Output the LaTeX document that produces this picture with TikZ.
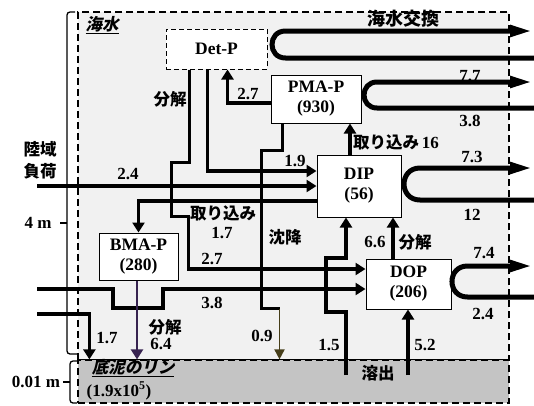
\documentclass[tikz,border=0pt]{standalone}
\usepackage{fontspec}
\setmainfont{Liberation Serif}
\newfontfamily\cjk{Noto Sans CJK JP}
\newfontfamily\cjkit[FakeSlant=0.22]{Noto Sans CJK JP}
\usetikzlibrary{arrows.meta,calc}
\definecolor{seafill}{RGB}{241,241,241}
\definecolor{sedfill}{RGB}{196,196,196}
\definecolor{olive0}{RGB}{70,62,25}
\definecolor{purp0}{RGB}{55,35,80}
\begin{document}
\begin{tikzpicture}[x=1pt,y=-1pt,
  num/.style={font=\fontsize{17}{20}\selectfont\bfseries, inner sep=0pt},
  jl/.style={font=\cjk\bfseries\fontsize{16.5}{20}\selectfont, inner sep=0pt},
  jit/.style={font=\cjkit\bfseries\fontsize{16.5}{20}\selectfont, inner sep=0pt},
  box/.style={draw, fill=white, line width=1pt, align=center, inner sep=0pt, font=\fontsize{17.5}{20}\selectfont\bfseries},
  conn/.style={line width=3.5pt, -{Triangle[length=10pt,width=12pt]}},
  wire/.style={line width=3.5pt},
  xloop/.style={line width=5pt, -{Triangle[length=22pt,width=11pt]}},
  zone/.style={draw, line width=1.2pt, dash pattern=on 7pt off 4pt, inner sep=0pt},
  brk/.style={line width=1.3pt, rounded corners=3pt}
]
\useasboundingbox (0,0) rectangle (534,405);
% zones
\node[zone, fill=seafill, minimum width=431pt, minimum height=348pt] (sea) at (293.5,186) {};
\node[zone, fill=sedfill, minimum width=431pt, minimum height=43pt] (sed) at (293.5,381.5) {};
% brackets
\draw[brk] (75,12) -- (67,12) -- (67,354) -- (77,354);
\draw[line width=1.3pt] (60,223) -- (67,223);
\draw[brk] (77,361) -- (70,361) -- (70,403) -- (77,403);
\draw[line width=1.3pt] (63,382) -- (70,382);
\node[num] (h4) at (38,223) {4 m};
\node[num] (h001) at (36,382) {0.01 m};
% boxes
\node[box, dashed, dash pattern=on 5pt off 3pt, minimum width=101pt, minimum height=40pt] (detp) at (216.5,49) {Det-P};
\node[box, minimum width=90pt, minimum height=48pt] (pmap) at (316,99) {PMA-P\\(930)};
\node[box, minimum width=84pt, minimum height=62pt] (dip) at (359,186) {DIP\\(56)};
\node[box, minimum width=85pt, minimum height=50pt] (dop) at (408.5,284) {DOP\\(206)};
\node[box, minimum width=79pt, minimum height=47pt] (bmap) at (138.5,256.5) {BMA-P\\(280)};
% free ends
\coordinate (land1) at (37,186);
\coordinate (land2) at (37,289);
\coordinate (land3) at (37,314);
\coordinate (src1) at (346,375);
\coordinate (src2) at (408,375);
\coordinate (e0in) at (534,58);  \coordinate (e0out) at (532,31);
\coordinate (e1in) at (534,108); \coordinate (e1out) at (532,82);
\coordinate (e2in) at (534,200); \coordinate (e2out) at (532,168);
\coordinate (e3in) at (534,297); \coordinate (e3out) at (532,266);
% exchange loops
\draw[xloop] (e0in) -- ([xshift=18pt,yshift=-9pt]detp.east) .. controls ([xshift=0pt,yshift=-9pt]detp.east) and ([xshift=0pt,yshift=18pt]detp.east) .. ([xshift=18pt,yshift=18pt]detp.east) -- (e0out);
\draw[xloop] (e1in) -- (377,108) .. controls (359.7,108) and (359.7,82) .. (377,82) -- (e1out);
\draw[xloop] (e2in) -- (420,200) .. controls (398.7,200) and (398.7,168) .. (420,168) -- (e2out);
\draw[xloop] (e3in) -- (467.5,297) .. controls (446.8,297) and (446.8,266) .. (467.5,266) -- (e3out);
% connectors
\draw[conn] ([xshift=24pt]detp.south west) -- ++(0,93) -- ++(-18,0) -- ++(0,54) -- ++(17,0) |- ([yshift=15pt]dop.west);
\draw[conn] ([xshift=42pt]detp.south west) |- ([yshift=15pt]dip.west);
\draw[conn] (land1) -- (dip.west);
\draw[conn] ([yshift=-15pt]dip.west) -| (bmap.north);
\draw[conn] ([yshift=-4pt]pmap.west) -| ([xshift=62pt]detp.south west);
\draw[wire] ([xshift=12pt]pmap.south west) -- ++(0,27) -- ++(-21,0) -- ++(0,158) -- ++(18,0) coordinate (sink);
\draw[line width=1.8pt, draw=olive0, -{Triangle[length=10pt,width=10pt]}] (sink) -- (sink |- sed.north);
\draw[conn] ([xshift=-9pt]dip.north) -- ([xshift=-9pt]dip.north |- pmap.south);
\draw[conn] (land2) -- ++(76,0) -- ++(0,19) -- ++(50,0) -- ++(0,-19) -- ([yshift=-5pt]dop.west);
\draw[conn] (land3) -| ([xshift=12pt]sed.north west);
\draw[line width=2.2pt, draw=purp0, -{Triangle[length=10pt,width=12pt]}] ([xshift=-1.5pt]bmap.south) -- ([xshift=-1.5pt]bmap.south |- sed.north);
\draw[conn] (src1) -- ++(0,-63) -- ++(-20,0) -- ++(0,-54) -- ++(20,0) -- ([xshift=-13pt]dip.south);
\draw[conn] (src2) -- ([xshift=-0.5pt]dop.south);
\draw[conn] ([xshift=-15.5pt]dop.north) -- ([xshift=-15.5pt]dop.north |- dip.south);
% labels
\node[jit] (tsea) at (102,25) {\underline{海水}};
\node[jl, font=\cjk\bfseries\fontsize{18}{20}\selectfont] (texch) at (403,19) {海水交換};
\node[jl, align=center, font=\cjk\bfseries\fontsize{16.5}{22}\selectfont] (tland) at (40,160) {陸域\\負荷};
\node[jl] (tdec1) at (170,99) {分解};
\node[num] (v27a) at (248,94) {2.7};
\node[num] (v19) at (295,161) {1.9};
\node[num] (v24a) at (128,174) {2.4};
\node[jl, anchor=west] (tupt1) at (353,142) {取り込み\,{\fontspec{Liberation Serif}\bfseries\fontsize{17}{20}\selectfont 16}};
\node[jl] (tupt2) at (223,213) {取り込み};
\node[num] (v17a) at (222,233) {1.7};
\node[num] (v27b) at (212,259) {2.7};
\node[jl] (tsed) at (285,237) {沈降};
\node[num] (v38a) at (212,303) {3.8};
\node[num] (v09) at (262,336) {0.9};
\node[num] (v17b) at (107,338) {1.7};
\node[jl] (tdec2) at (165,327) {分解};
\node[num] (v64) at (161,344) {6.4};
\node[num] (v66) at (375,242) {6.6};
\node[jl] (tdec3) at (415,242) {分解};
\node[num] (v15) at (329,345) {1.5};
\node[num] (v52) at (425,345) {5.2};
\node[jl] (tdis) at (378,373) {溶出};
\node[num] (v77) at (470,76) {7.7};
\node[num] (v38b) at (470,121) {3.8};
\node[num] (v73) at (472,157) {7.3};
\node[num] (v12) at (472,215) {12};
\node[num] (v74) at (484,253) {7.4};
\node[num] (v24b) at (483,314) {2.4};
\node[jit] (tsedp) at (133,368) {\underline{底泥のリン}};
\node[num] (tsedv) at (119,391) {(1.9x10\textsuperscript{5})};
\end{tikzpicture}
\end{document}
